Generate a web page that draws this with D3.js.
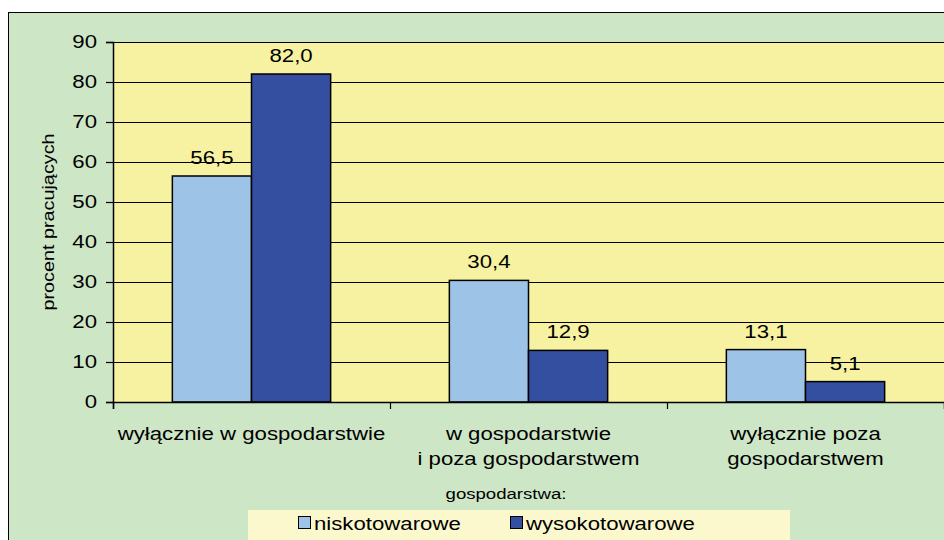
<!DOCTYPE html>
<html>
<head>
<meta charset="utf-8">
<script src="https://cdn.jsdelivr.net/npm/d3@7"></script>
<style>
body { margin: 0; background: #fff; }
svg { display: block; font-family: "Liberation Sans", Arial, sans-serif; }
</style>
</head>
<body>
<div class="chart"></div>
<script>
// data
var categories = [["wyłącznie w gospodarstwie"], ["w gospodarstwie", "i poza gospodarstwem"], ["wyłącznie poza", "gospodarstwem"]];
var seriesNames = ["niskotowarowe", "wysokotowarowe"];
var niskotowarowe = [56.5, 30.4, 13.1];
var wysokotowarowe = [82.0, 12.9, 5.1];
var yTicks = [0, 10, 20, 30, 40, 50, 60, 70, 80, 90];
var colors = ["#9dc3e6", "#344ea0"];

var W = 944, H = 540;
var plot = {left: 113, top: 42, right: 944, bottom: 402};
var SX = 1.2; // text in the original is a bit wider than normal

var svg = d3.select(".chart").append("svg")
    .attr("width", W)
    .attr("height", H);

// wide text helper
function wideText(parent, x, y, str, size, anchor) {
    return parent.append("text")
        .attr("transform", "translate(" + x + "," + y + ") scale(" + SX + ",1)")
        .attr("text-anchor", anchor || "middle")
        .attr("font-size", size)
        .attr("fill", "#000")
        .text(str);
}

// outer green box
svg.append("rect")
    .attr("x", 8.5).attr("y", 12.5)
    .attr("width", W).attr("height", H)
    .attr("fill", "#cde6c6")
    .attr("stroke", "#000").attr("stroke-width", 1);

var x0 = d3.scaleBand()
    .domain(d3.range(categories.length))
    .range([plot.left, plot.right])
    .paddingInner(0).paddingOuter(0);

var x1 = d3.scaleBand()
    .domain([0, 1])
    .range([0, x0.bandwidth()])
    .paddingOuter(0.75).paddingInner(0);

var y = d3.scaleLinear().domain([0, 90]).range([plot.bottom, plot.top]);

// plot area
svg.append("rect")
    .attr("x", plot.left).attr("y", plot.top)
    .attr("width", W - plot.left + 10).attr("height", plot.bottom - plot.top)
    .attr("fill", "#f7f2a1");

// gridlines
svg.append("g").selectAll("line")
    .data(yTicks.slice(1))
    .enter().append("line")
    .attr("x1", plot.left).attr("x2", W + 10)
    .attr("y1", function(d){ return Math.round(y(d)) + 0.5; })
    .attr("y2", function(d){ return Math.round(y(d)) + 0.5; })
    .attr("stroke", "#000").attr("stroke-width", 1.2);

// bars
var rows = categories.map(function(c, i){ return [niskotowarowe[i], wysokotowarowe[i]]; });
var groups = svg.append("g").selectAll("g")
    .data(rows)
    .enter().append("g")
    .attr("transform", function(d, i){ return "translate(" + x0(i) + ",0)"; });

groups.selectAll("rect")
    .data(function(d){ return d; })
    .enter().append("rect")
    .attr("x", function(d, j){ return x1(j); })
    .attr("y", function(d){ return y(d); })
    .attr("width", x1.bandwidth())
    .attr("height", function(d){ return y(0) - y(d); })
    .attr("fill", function(d, j){ return colors[j]; })
    .attr("stroke", "#000").attr("stroke-width", 1.5);

groups.each(function(d){
    var g = d3.select(this);
    d.forEach(function(v, j){
        wideText(g, x1(j) + x1.bandwidth() / 2, y(v) - 12, d3.format(".1f")(v).replace(".", ","), 18.5);
    });
});

// y axis
var yAxis = svg.append("g")
    .attr("transform", "translate(" + plot.left + ",0)")
    .call(d3.axisLeft(y).tickValues(yTicks).tickSize(7).tickPadding(9));
yAxis.select(".domain").attr("stroke", "#000").attr("stroke-width", 1.5);
yAxis.selectAll(".tick line").attr("stroke", "#000").attr("stroke-width", 1.2);
yAxis.selectAll("text")
    .attr("x", null)
    .attr("transform", "translate(-16,0) scale(" + SX + ",1)")
    .attr("font-size", 18.5)
    .attr("font-family", "Liberation Sans, Arial, sans-serif")
    .attr("fill", "#000");

// x axis
var xb = d3.scaleLinear().domain([0, categories.length]).range([plot.left, plot.right]);
var xAxis = svg.append("g")
    .attr("transform", "translate(0," + plot.bottom + ")")
    .call(d3.axisBottom(xb).tickValues([0, 1, 2]).tickSize(7).tickFormat(""));
xAxis.select(".domain").attr("stroke", "#000").attr("stroke-width", 1.5);
xAxis.selectAll(".tick line").attr("stroke", "#000").attr("stroke-width", 1.2);

// category labels
var catG = svg.append("g");
categories.forEach(function(lines, i){
    lines.forEach(function(l, k){
        wideText(catG, x0(i) + x0.bandwidth() / 2, 440 + k * 25, l, 18.5);
    });
});

// y label
svg.append("text")
    .attr("transform", "translate(54," + (plot.top + plot.bottom) / 2 + ") rotate(-90) scale(" + SX + ",1)")
    .attr("text-anchor", "middle")
    .attr("font-size", 16.5)
    .attr("fill", "#000")
    .text("procent pracujących");

// legend
wideText(svg, 506, 499, "gospodarstwa:", 15.5);

svg.append("rect")
    .attr("x", 248).attr("y", 510)
    .attr("width", 542).attr("height", 40)
    .attr("fill", "#fbf8cd");

var legX = [298, 510];
var leg = svg.append("g").selectAll("g")
    .data(seriesNames)
    .enter().append("g")
    .attr("transform", function(d, i){ return "translate(" + legX[i] + ",516)"; });
leg.append("rect")
    .attr("x", 0.5).attr("y", 0.5)
    .attr("width", 12).attr("height", 12)
    .attr("fill", function(d, i){ return colors[i]; })
    .attr("stroke", "#000").attr("stroke-width", 1);
leg.each(function(d){
    wideText(d3.select(this), 16, 13.5, d, 18.5, "start");
});
</script>
</body>
</html>
